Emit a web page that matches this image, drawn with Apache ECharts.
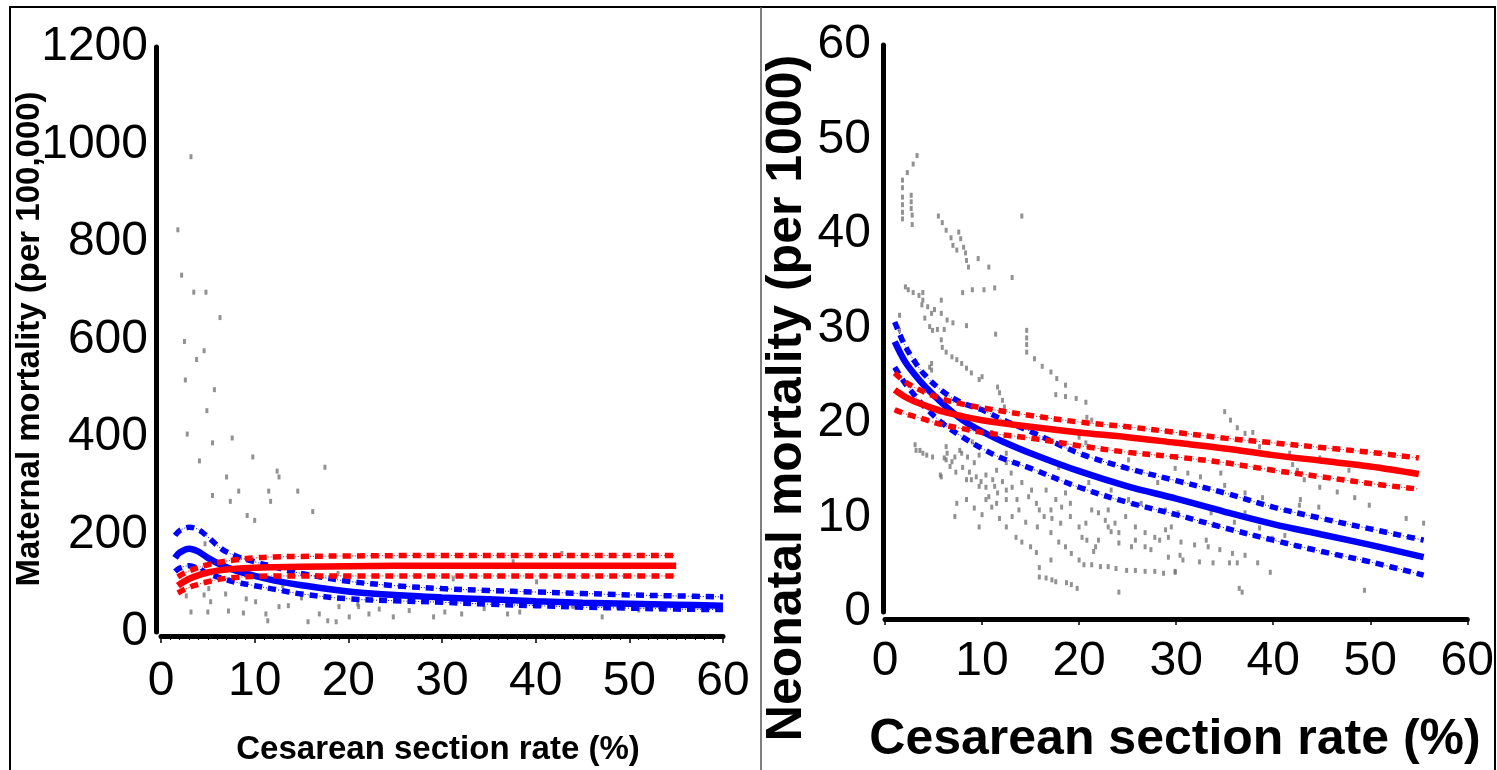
<!DOCTYPE html>
<html>
<head>
<meta charset="utf-8">
<script src="https://cdn.jsdelivr.net/npm/echarts@6/dist/echarts.min.js"></script>
<style>
html,body{margin:0;padding:0;background:#fff;}
#chart{width:1497px;height:770px;}
</style>
</head>
<body>
<div id="chart"></div>
<script>
// ---------- DATA ----------
var xTicks = [0, 10, 20, 30, 40, 50, 60];
var maternalTicks = [0, 200, 400, 600, 800, 1000, 1200];
var neonatalTicks = [0, 10, 20, 30, 40, 50, 60];

// Maternal mortality panel (per 100,000)
var maternalPoints = [
  [3.2,975],[1.8,825],[2.2,732],[3.5,697],[4.8,697],[6.3,645],[2.5,596],[4.6,577],[3.8,559],
  [2.6,517],[5.7,497],[4.9,454],[2.8,406],[5.5,388],[7.6,398],[4.1,351],[9.8,359],[17.5,338],
  [7.0,318],[12.4,330],[12.6,318],[5.5,280],[8.3,289],[11.5,289],[14.6,289],[7.4,268],[11.7,268],
  [9.2,239],[10.0,229],[16.2,247],[4.7,181],[5.1,89],[2.7,74],[4.6,76],[6.9,78],[5.3,62],[9.1,68],
  [10.1,62],[3.2,41],[5.0,41],[7.2,43],[8.8,39],[11.2,37],[12.6,52],[13.6,54],[11.4,23],[15.7,21],
  [16.9,37],[17.8,23],[18.7,21],[19.0,52],[20.1,31],[21.1,52],[22.2,37],[23.3,47],[24.8,31],
  [29.1,31],[18.9,120],[21.0,58],[30.3,41],[32.1,37],[37.0,37],[38.3,41],[40.1,103],[47.1,31],
  [37.6,144],[42.8,161],[31.2,109],[26.5,44],[34.5,48],[44.0,52],[51.0,45],[13.0,95],[15.0,70]
];
var maternalBlueX     = [1.5, 2, 3, 4, 5, 6.5, 8, 10, 12, 15, 20, 25, 30, 35, 40, 45, 50, 55, 60];
var maternalBlueFit   = [152, 163, 171, 165, 152, 137, 126, 115, 106, 96, 83, 76, 71, 67, 63, 60, 58, 56, 54];
var maternalBlueUpper = [198, 208, 215, 210, 195, 170, 156, 144, 134, 120, 104, 95, 89, 85, 82, 79, 76, 74, 72];
var maternalBlueLower = [124, 131, 136, 130, 120, 110, 102, 95, 88, 78, 68, 64, 61, 57, 54, 51, 49, 47, 46];
var maternalRedX      = [1.8, 2.5, 3.5, 5, 6.5, 8, 10, 12, 15, 20, 30, 40, 50, 55];
var maternalRedFit    = [95, 104, 113, 122, 127, 130, 132, 133, 134, 135, 136, 136, 136, 136];
var maternalRedUpper  = [113, 121, 129, 138, 144, 148, 152, 154, 155, 156, 157, 157, 157, 157];
var maternalRedLower  = [80, 87, 95, 103, 109, 112, 114, 115, 115, 115, 115, 115, 115, 115];

// Neonatal mortality panel (per 1000)
var neonatalPoints = [
  [3.3,48.3],[2.9,47.4],[2.3,46.5],[1.8,45.7],[1.8,44.9],[1.8,43.9],[1.8,43.1],[1.8,42.3],[1.8,41.6],
  [2.7,44.1],[2.7,43.4],[2.7,42.7],[2.8,42.0],[2.8,41.0],[5.5,41.9],[5.9,41.2],[6.3,40.4],[6.8,39.6],
  [7.0,38.8],[7.4,38.3],[7.6,40.2],[7.8,39.5],[8.1,38.6],[8.3,38.0],[8.4,37.2],[8.6,36.5],[9.6,37.4],
  [10.7,36.5],[13.1,35.4],[14.1,41.9],[11.3,34.3],[10.2,34.1],[9.0,34.1],[8.0,33.8],[2.1,34.4],[2.4,34.1],
  [2.9,33.8],[3.5,33.5],[3.9,33.8],[3.9,33.0],[3.8,32.5],[4.4,32.3],[4.8,31.6],[5.1,32.0],[5.8,33.0],
  [5.8,31.6],[4.1,31.1],[4.6,30.2],[4.9,29.8],[5.4,29.9],[6.1,29.9],[6.4,30.9],[7.0,30.6],[8.4,30.3],
  [1.5,31.4],[1.5,29.8],[11.4,29.4],[14.6,29.8],[14.6,29.0],[14.6,28.3],[14.6,27.5],[15.4,26.8],[16.2,26.0],
  [17.1,25.4],[17.7,24.7],[18.6,24.0],[17.6,23.0],[18.6,22.8],[19.7,22.6],[20.7,22.2],[5.8,28.8],[5.9,28.0],
  [6.3,27.5],[6.9,27.0],[7.4,26.7],[7.9,26.3],[8.4,25.8],[8.9,25.3],[9.7,24.6],[10.0,24.9],[4.8,26.3],
  [4.8,25.6],[11.6,23.8],[11.8,23.2],[12.1,22.4],[12.3,21.7],[20.0,18.5],[20.8,20.6],[21.3,20.3],
  [3.1,17.7],[3.6,17.1],[4.3,16.6],[4.9,16.4],[5.8,14.3],[6.3,17.5],[6.4,16.8],[6.3,16.1],[6.9,15.9],
  [7.2,16.4],[7.7,17.1],[8.0,15.3],[8.5,16.4],[8.7,14.8],[9.2,15.8],[9.7,16.6],[9.4,14.3],[9.9,13.8],
  [10.4,14.5],[10.4,13.2],[11.1,14.0],[11.5,15.0],[12.1,13.8],[12.5,15.8],[12.5,12.9],[13.1,13.2],
  [10.7,12.2],[11.5,11.5],[12.5,11.9],[8.4,11.9],[9.2,11.0],[10.0,10.3],[11.0,11.1],[11.8,9.9],[13.1,10.1],
  [12.5,9.0],[7.2,10.1],[13.5,7.9],[14.1,7.4],[15.0,6.9],[15.6,6.3],[14.5,9.5],[14.8,12.2],[15.6,11.5],
  [15.7,9.0],[14.1,13.7],[15.1,12.9],[16.6,12.9],[17.1,10.8],[17.6,11.9],[18.2,11.1],[18.6,12.6],[19.1,11.5],
  [17.1,8.4],[17.9,7.4],[18.6,6.9],[19.2,6.2],[20.0,5.5],[20.5,5.0],[21.3,5.0],[22.2,4.8],[23.0,4.8],
  [23.8,4.6],[24.9,4.4],[25.8,4.4],[26.8,4.3],[27.8,4.3],[28.7,4.1],[29.9,4.3],[15.9,4.7],[15.9,3.7],
  [16.6,3.6],[17.2,3.4],[17.6,3.2],[18.7,3.1],[19.2,2.9],[19.8,2.5],[17.1,5.5],[24.1,2.1],[8.4,14.0],
  [21.3,10.8],[22.0,10.5],[22.7,9.7],[23.0,9.0],[23.3,8.5],[22.0,7.6],[21.7,6.9],[23.7,9.4],[24.1,8.4],
  [24.8,10.1],[25.8,9.0],[26.8,8.4],[27.8,7.9],[25.8,7.6],[20.3,7.9],[20.7,9.4],[27.4,6.6],[28.9,8.7],
  [29.2,5.8],[17.9,15.3],[20.0,15.0],[21.0,13.7],[23.3,12.9],[25.1,11.9],[26.4,11.5],[28.1,13.7],
  [28.9,10.8],[25.1,16.1],[20.7,17.9],[14.5,19.6],[12.5,16.8],[7.4,11.5],[9.7,9.0],[5.7,14.5],
  [35.0,21.2],[35.6,20.3],[36.3,19.5],[37.1,18.9],[37.9,19.0],[38.6,17.5],[41.7,16.8],[42.0,15.6],
  [42.5,15.0],[43.2,14.0],[44.8,16.3],[47.8,15.0],[46.6,12.7],[48.4,12.1],[49.9,11.3],[53.7,9.9],
  [55.5,9.4],[29.9,15.2],[31.2,14.7],[32.5,14.3],[34.6,14.7],[35.0,13.4],[37.1,12.6],[38.9,12.1],
  [42.7,11.3],[44.7,11.1],[30.2,10.5],[33.6,10.5],[36.0,9.5],[30.5,7.4],[31.9,7.1],[33.3,6.9],[34.5,6.6],
  [35.8,6.2],[37.1,6.0],[39.9,7.8],[41.2,8.1],[38.6,8.9],[30.4,6.0],[30.7,5.5],[32.4,5.3],[33.8,5.2],
  [35.5,5.2],[36.3,5.2],[38.4,5.2],[29.9,4.2],[39.7,4.2],[36.5,2.5],[36.8,2.1],[49.4,2.3],[44.8,13.2],
  [42.8,11.9],[37.1,10.5],[33.1,7.6],[29.2,7.9],[2.5,22.5],[4.6,25.9],[6.0,20.0],[9.0,18.0],[11.0,19.0],
  [3.2,17.1],[3.9,16.8],[6.1,16.3],[6.7,15.4],[7.3,14.8],[7.9,16.8],[8.9,14.0],[9.7,13.3],[10.4,11.9],
  [11.3,13.3],[11.6,12.6],[13.0,14.7],[13.6,11.9],[13.8,10.8],[15.9,10.8],[16.4,10.1],[17.2,9.9],
  [18.1,9.4],[19.1,10.1],[20.0,9.0],[20.8,7.6],[21.5,6.4],[23.0,10.8],[24.1,7.3],[25.4,6.9],[26.8,6.9],
  [28.3,7.6],[29.5,9.0]
];
var neonatalBlueX     = [1, 2, 3, 4, 6, 8, 10, 12, 15, 20, 25, 30, 35, 40, 45, 50, 55.5];
var neonatalBlueFit   = [28.6, 26.6, 25.2, 24.0, 22.0, 20.3, 19.1, 18.1, 16.8, 14.9, 13.3, 12.0, 10.6, 9.3, 8.2, 7.1, 5.8];
var neonatalBlueUpper = [30.7, 28.3, 26.6, 25.2, 23.3, 22.1, 21.4, 20.4, 19.1, 16.8, 15.2, 13.9, 12.6, 11.1, 9.9, 8.8, 7.6];
var neonatalBlueLower = [25.9, 24.3, 23.0, 21.8, 19.9, 18.5, 17.3, 16.3, 15.2, 13.2, 11.6, 10.3, 8.9, 7.6, 6.4, 5.3, 3.9];
var neonatalRedX      = [1, 2, 3, 4, 6, 8, 10, 15, 20, 25, 30, 35, 40, 45, 50, 55];
var neonatalRedFit    = [23.5, 22.8, 22.3, 21.9, 21.2, 20.7, 20.3, 19.6, 19.0, 18.5, 17.9, 17.3, 16.6, 16.0, 15.4, 14.6];
var neonatalRedUpper  = [25.3, 24.4, 23.8, 23.3, 22.5, 22.0, 21.6, 20.8, 20.1, 19.6, 19.0, 18.4, 17.9, 17.4, 16.9, 16.3];
var neonatalRedLower  = [21.4, 21.0, 20.7, 20.4, 19.8, 19.4, 19.0, 18.4, 17.6, 16.9, 16.4, 15.8, 15.0, 14.3, 13.6, 13.0];

var xTitle = 'Cesarean section rate (%)';
var maternalTitle = 'Maternal mortality (per 100,000)';
var neonatalTitle = 'Neonatal mortality (per 1000)';

// ---------- BUILD ----------
function zip(xs, ys) { return xs.map(function (x, i) { return [x, ys[i]]; }); }
var FONT = 'Liberation Sans, Arial, sans-serif';
var BLUE = '#0000ff', RED = '#ff0000', GREY = '#777777';

function curve(idx, xs, ys, color, dashed) {
  var out = [];
  out.push({
    type: 'line', xAxisIndex: idx, yAxisIndex: idx, data: zip(xs, ys),
    showSymbol: false, smooth: 0.35, silent: true, z: 3,
    lineStyle: { color: color, width: dashed ? 5.5 : 6.5, type: dashed ? [8, 6] : 'solid', cap: 'butt' }
  });
  if (dashed) {
    out.push({
      type: 'line', xAxisIndex: idx, yAxisIndex: idx, data: zip(xs, ys),
      showSymbol: false, smooth: 0.35, silent: true, z: 3,
      lineStyle: { color: color, width: 1, type: [1, 2] }
    });
  }
  return out;
}

function scatter(idx, pts) {
  return {
    type: 'scatter', xAxisIndex: idx, yAxisIndex: idx, data: pts, silent: true, z: 2,
    symbol: 'rect', symbolSize: [3, 5], itemStyle: { color: GREY }
  };
}

var series = [].concat(
  [scatter(0, maternalPoints)],
  curve(0, maternalBlueX, maternalBlueUpper, BLUE, true),
  curve(0, maternalBlueX, maternalBlueLower, BLUE, true),
  curve(0, maternalBlueX, maternalBlueFit, BLUE, false),
  curve(0, maternalRedX, maternalRedUpper, RED, true),
  curve(0, maternalRedX, maternalRedLower, RED, true),
  curve(0, maternalRedX, maternalRedFit, RED, false),
  [scatter(1, neonatalPoints)],
  curve(1, neonatalBlueX, neonatalBlueUpper, BLUE, true),
  curve(1, neonatalBlueX, neonatalBlueLower, BLUE, true),
  curve(1, neonatalBlueX, neonatalBlueFit, BLUE, false),
  curve(1, neonatalRedX, neonatalRedUpper, RED, true),
  curve(1, neonatalRedX, neonatalRedLower, RED, true),
  curve(1, neonatalRedX, neonatalRedFit, RED, false)
);

function xAxisCfg(idx, offset, margin, minor) {
  return {
    type: 'value', gridIndex: idx, min: xTicks[0], max: xTicks[xTicks.length - 1],
    interval: xTicks[1] - xTicks[0], offset: offset,
    axisLine: { show: true, onZero: false, lineStyle: { color: '#000', width: 5 } },
    axisTick: { show: true, length: minor ? 7 : 6, lineStyle: { color: '#000', width: 1.5 } },
    minorTick: { show: minor, splitNumber: 10, length: 4, lineStyle: { color: '#000', width: 1 } },
    splitLine: { show: false },
    axisLabel: { fontSize: 48, color: '#000', fontFamily: FONT, margin: margin,
      formatter: function (v) { return xTicks.indexOf(v) >= 0 ? String(v) : ''; } }
  };
}
function yAxisCfg(idx, ticks, offset, margin) {
  return {
    type: 'value', gridIndex: idx, min: ticks[0], max: ticks[ticks.length - 1],
    interval: ticks[1] - ticks[0], offset: offset,
    axisLine: { show: true, onZero: false, lineStyle: { color: '#000', width: 5 } },
    axisTick: { show: false }, splitLine: { show: false },
    axisLabel: { fontSize: 48, color: '#000', fontFamily: FONT, margin: margin,
      formatter: function (v) { return ticks.indexOf(v) >= 0 ? String(v) : ''; } }
  };
}

var option = {
  backgroundColor: '#fff',
  animation: false,
  grid: [
    { left: 161, top: 47, width: 562, height: 585 },
    { left: 885, top: 45, width: 586, height: 567 }
  ],
  xAxis: [xAxisCfg(0, 4, 22, true), xAxisCfg(1, 7, 19, false)],
  yAxis: [yAxisCfg(0, maternalTicks, 5, 8), yAxisCfg(1, neonatalTicks, 2, 12)],
  series: series,
  graphic: [
    { type: 'rect', silent: true, z: 10, shape: { x: 10, y: 7, width: 1485, height: 780 },
      style: { fill: 'none', stroke: '#000', lineWidth: 2 } },
    { type: 'line', silent: true, z: 10, shape: { x1: 761, y1: 7, x2: 761, y2: 770 },
      style: { stroke: '#555', lineWidth: 1.5 } },
    { type: 'text', silent: true, z: 10, x: 438, y: 750,
      style: { text: xTitle, font: 'bold 33px ' + FONT, fill: '#000', textAlign: 'center', textVerticalAlign: 'middle' } },
    { type: 'text', silent: true, z: 10, x: 1175, y: 740,
      style: { text: xTitle, font: 'bold 50px ' + FONT, fill: '#000', textAlign: 'center', textVerticalAlign: 'middle' } },
    { type: 'text', silent: true, z: 10, x: 30, y: 339, rotation: Math.PI / 2,
      style: { text: maternalTitle, font: 'bold 33px ' + FONT, fill: '#000', textAlign: 'center', textVerticalAlign: 'middle' } },
    { type: 'text', silent: true, z: 10, x: 787, y: 398, rotation: Math.PI / 2,
      style: { text: neonatalTitle, font: 'bold 50px ' + FONT, fill: '#000', textAlign: 'center', textVerticalAlign: 'middle' } }
  ]
};

var chart = echarts.init(document.getElementById('chart'), null, { renderer: 'canvas' });
chart.setOption(option);
</script>
</body>
</html>
